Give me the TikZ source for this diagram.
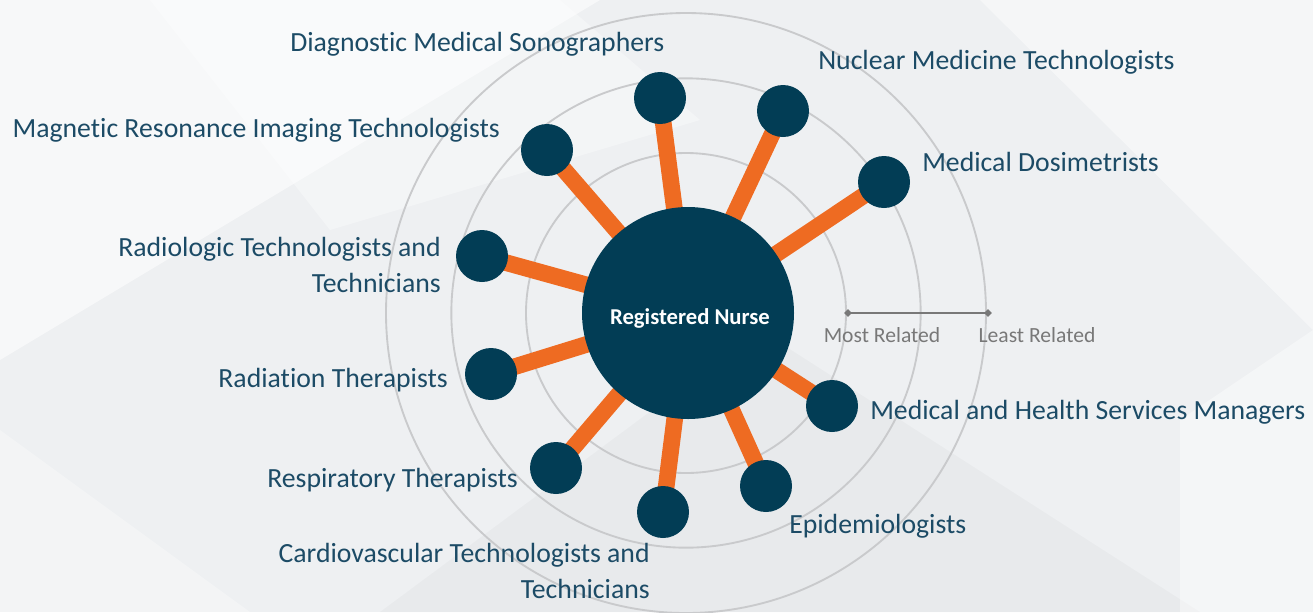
\documentclass[tikz,border=0pt]{standalone}
\usepackage{fontspec}
\setmainfont{Carlito}[Ligatures={NoCommon}]
\usetikzlibrary{shapes.geometric}
\pgfdeclarelayer{bglayer}
\pgfdeclarelayer{connlayer}
\pgfsetlayers{bglayer,connlayer,main}
\definecolor{bgc}{HTML}{EEF0F2}
\definecolor{navy}{HTML}{023D55}
\definecolor{orng}{HTML}{EE6B22}
\definecolor{txt}{HTML}{1C4B66}
\definecolor{ring}{HTML}{C9CACC}
\definecolor{leg}{HTML}{787878}
\tikzset{
  hub/.style={circle, fill=navy, minimum size=159pt, inner sep=0pt},
  leaf/.style={circle, fill=navy, minimum size=39pt, inner sep=0pt},
  conn/.style={draw=orng, line width=12.5pt},
  lbl/.style={text=txt, font=\fontsize{20.8}{27}\selectfont, inner sep=0pt},
  leglbl/.style={text=leg, font=\fontsize{16.2}{18}\selectfont, inner sep=0pt},
  legmark/.style={diamond, fill=leg, minimum size=6pt, inner sep=0pt},
  ringline/.style={draw=ring, line width=1.4pt}
}
\begin{document}
\begin{tikzpicture}[x=0.75pt,y=-0.75pt]
\useasboundingbox (0,0) rectangle (1313,612);
\begin{pgfonlayer}{bglayer}
% background
\fill[bgc] (0,0) rectangle (1313,612);
\fill[white, opacity=0.55] (0,0) -- (600,0) -- (0,360) -- cycle;
\fill[white, opacity=0.35] (150,0) -- (560,0) -- (700,120) -- (330,230) -- cycle;
\fill[white, opacity=0.45] (980,0) -- (1313,0) -- (1313,330) -- cycle;
\fill[black, opacity=0.025] (380,612) -- (760,330) -- (1200,612) -- cycle;
\fill[white, opacity=0.4] (1180,420) -- (1313,330) -- (1313,612) -- (1180,612) -- cycle;
\fill[white, opacity=0.3] (0,430) -- (250,612) -- (0,612) -- cycle;
% rings
\draw[ringline] (686,313) circle[radius=120pt];
\draw[ringline] (686,313) circle[radius=176pt];
\draw[ringline] (686,313) circle[radius=225pt];
\end{pgfonlayer}
% nodes
\node[hub] (rn) at (688,313) {};
\node[text=white, font=\bfseries\fontsize{17}{18}\selectfont, inner sep=0pt] (rnl) at (690,318) {Registered Nurse};
\node[leaf] (dms) at (660,98) {};
\node[leaf] (nmt) at (783,111) {};
\node[leaf] (md) at (884,182) {};
\node[leaf] (mri) at (547,150) {};
\node[leaf] (rtt) at (482,256) {};
\node[leaf] (rt) at (491,374) {};
\node[leaf] (rsp) at (556,468) {};
\node[leaf] (cvt) at (663,512) {};
\node[leaf] (epi) at (766,486) {};
\node[leaf] (mhs) at (832,406) {};
% connectors
\begin{pgfonlayer}{connlayer}
\foreach \n in {dms,nmt,md,mri,rtt,rt,rsp,cvt,epi,mhs}
  \draw[conn] (rn.center) -- (\n.center);
\end{pgfonlayer}
% labels
\node[lbl, anchor=mid west] (l1) at (290,48) {Diagnostic Medical Sonographers};
\node[lbl, anchor=mid west] (l2) at (818,66) {Nuclear Medicine Technologists};
\node[lbl, anchor=mid west] (l3) at (922,168) {Medical Dosimetrists};
\node[lbl, anchor=mid east] (l4) at (500,134) {Magnetic Resonance Imaging Technologists};
\node[lbl, anchor=east, align=right] (l5) at (441,265) {Radiologic Technologists and\\Technicians};
\node[lbl, anchor=mid east] (l6) at (448,384) {Radiation Therapists};
\node[lbl, anchor=mid west] (l7) at (870,416) {Medical and Health Services Managers};
\node[lbl, anchor=mid east] (l8) at (518,484) {Respiratory Therapists};
\node[lbl, anchor=mid west] (l9) at (789,530) {Epidemiologists};
\node[lbl, anchor=east, align=right] (l10) at (650,571) {Cardiovascular Technologists and\\Technicians};
% legend
\node[legmark] (m1) at (848,313) {};
\node[legmark] (m2) at (988,313) {};
\draw[leg, line width=1.6pt] (m1.center) -- (m2.center);
\node[leglbl, anchor=mid] (ml) at (882,339) {Most Related};
\node[leglbl, anchor=mid] (ll) at (1037,339) {Least Related};
\end{tikzpicture}
\end{document}
